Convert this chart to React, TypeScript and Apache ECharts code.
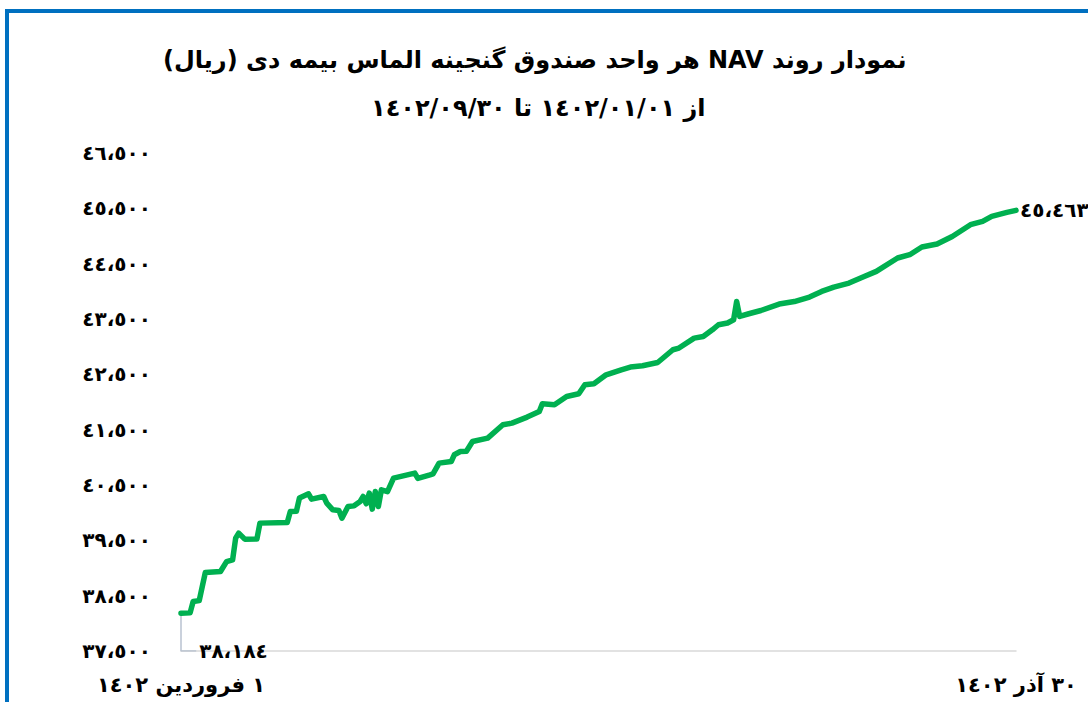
import React, { useEffect, useRef } from "react";
import * as echarts from "echarts";

const titleLine1 = "نمودار روند NAV هر واحد صندوق گنجینه الماس بیمه دی (ریال)";
const titleLine2 = "از ١٤٠٢/٠١/٠١ تا ١٤٠٢/٠٩/٣٠";
const xStartLabel = "١ فروردین ١٤٠٢";
const xEndLabel = "٣٠ آذر ١٤٠٢";

const yMin = 37500;
const yMax = 46500;
const yStep = 1000;
const dayMax = 275;

const days = [
  0, 3, 4, 6, 8, 13, 15, 17, 18, 19, 21, 25, 26, 35, 36, 38, 39, 42, 43, 47,
  48, 50, 52, 53, 55, 57, 59, 60, 61, 62, 63, 64, 65, 66, 68, 70, 77, 78, 82, 83,
  85, 89, 90, 92, 94, 96, 101, 106, 109, 114, 118, 119, 123, 127, 131, 133, 136, 140, 145, 148,
  152, 157, 162, 164, 169, 172, 175, 177, 180, 182, 183, 184, 187, 191, 197, 202, 207, 211, 215, 220,
  225, 229, 236, 240, 244, 249, 254, 260, 264, 267, 272, 275,
];

const navValues = [
  38184, 38189, 38393, 38411, 38917, 38936, 39116, 39147, 39539, 39630, 39521, 39525, 39811, 39821, 40020, 40025, 40263, 40340, 40245, 40292,
  40172, 40051, 40038, 39901, 40111, 40123, 40201, 40292, 40160, 40353, 40064, 40382, 40111, 40413, 40380, 40624, 40715, 40620, 40684, 40702,
  40895, 40924, 41046, 41105, 41110, 41286, 41347, 41588, 41619, 41727, 41828, 41968, 41950, 42100, 42148, 42311, 42329, 42492, 42582, 42631,
  42655, 42714, 42944, 42975, 43155, 43184, 43305, 43396, 43427, 43486, 43817, 43546, 43595, 43654, 43770, 43815, 43897, 43998, 44077, 44150,
  44269, 44360, 44602, 44662, 44801, 44855, 44992, 45204, 45264, 45354, 45426, 45463,
];

const AR_DIGITS = "٠١٢٣٤٥٦٧٨٩";
const toAr = (n: number) =>
  Math.round(n)
    .toLocaleString("en-US")
    .replace(/\d/g, (d) => AR_DIGITS[+d])
    .replace(/,/g, "،");
const rtl = (s: string) => "\u202B" + s + "\u202C";

const FONT = "DejaVu Sans";

export default function App() {
  const ref = useRef<HTMLDivElement>(null);
  useEffect(() => {
    if (!ref.current) return;
    const chart = echarts.init(ref.current, null, { renderer: "svg" });
    const lastIdx = days.length - 1;
    const mainData = days.map((d, i) => [d, navValues[i]]);
    const leaderData = [
      [days[0], navValues[0]],
      [days[0], yMin],
      [days[0] + 5, yMin],
    ];
    chart.setOption({
      animation: false,
      backgroundColor: "#fff",
      textStyle: { fontFamily: FONT },
      title: [
        {
          text: rtl(titleLine1),
          left: 158,
          top: 43,
          textStyle: { fontFamily: FONT, fontWeight: "bold", fontSize: 24, color: "#000" },
        },
        {
          text: rtl(titleLine2),
          left: 366,
          top: 91,
          textStyle: { fontFamily: FONT, fontWeight: "bold", fontSize: 24, color: "#000" },
        },
      ],
      grid: { left: 181, right: 72, top: 153, bottom: 51, containLabel: false },
      xAxis: {
        type: "value",
        min: 0,
        max: dayMax,
        interval: dayMax,
        axisLine: { show: true, lineStyle: { color: "#D9D9D9", width: 1.5 } },
        axisTick: { show: false },
        splitLine: { show: false },
        axisLabel: {
          margin: 23,
          showMinLabel: true,
          showMaxLabel: true,
          fontFamily: FONT,
          fontWeight: "bold",
          fontSize: 21,
          color: "#000",
          formatter: (v: number) => (v === 0 ? rtl(xStartLabel) : v === dayMax ? rtl(xEndLabel) : ""),
        },
      },
      yAxis: {
        type: "value",
        min: yMin,
        max: yMax,
        interval: yStep,
        axisLine: { show: false },
        axisTick: { show: false },
        splitLine: { show: false },
        axisLabel: {
          margin: 30,
          fontFamily: FONT,
          fontWeight: "bold",
          fontSize: 20,
          color: "#000",
          formatter: (v: number) => toAr(v),
        },
      },
      series: [
        {
          type: "line",
          data: leaderData,
          showSymbol: false,
          symbol: "none",
          lineStyle: { color: "#B8C2D0", width: 1.5 },
          z: 1,
          silent: true,
          endLabel: {
            show: true,
            distance: 3,
            formatter: () => toAr(navValues[0]),
            fontFamily: FONT,
            fontWeight: "bold",
            fontSize: 20,
            color: "#000",
          },
        },
        {
          type: "line",
          data: mainData,
          showSymbol: false,
          symbol: "none",
          lineStyle: { color: "#00B050", width: 5.5, cap: "round", join: "round" },
          itemStyle: { color: "#00B050" },
          z: 2,
          endLabel: {
            show: true,
            distance: 4,
            formatter: () => toAr(navValues[lastIdx]),
            fontFamily: FONT,
            fontWeight: "bold",
            fontSize: 20,
            color: "#000",
          },
        },
      ],
      graphic: [
        {
          type: "rect",
          shape: { x: 7, y: 11, width: 1300, height: 1000 },
          style: { fill: "none", stroke: "#0070C0", lineWidth: 4 },
          silent: true,
          z: 10,
        },
      ],
    });
    return () => chart.dispose();
  }, []);
  return (
    <div
      ref={ref}
      style={{ position: "fixed", left: 0, top: 0, width: 1088, height: 702, background: "#fff" }}
    />
  );
}
